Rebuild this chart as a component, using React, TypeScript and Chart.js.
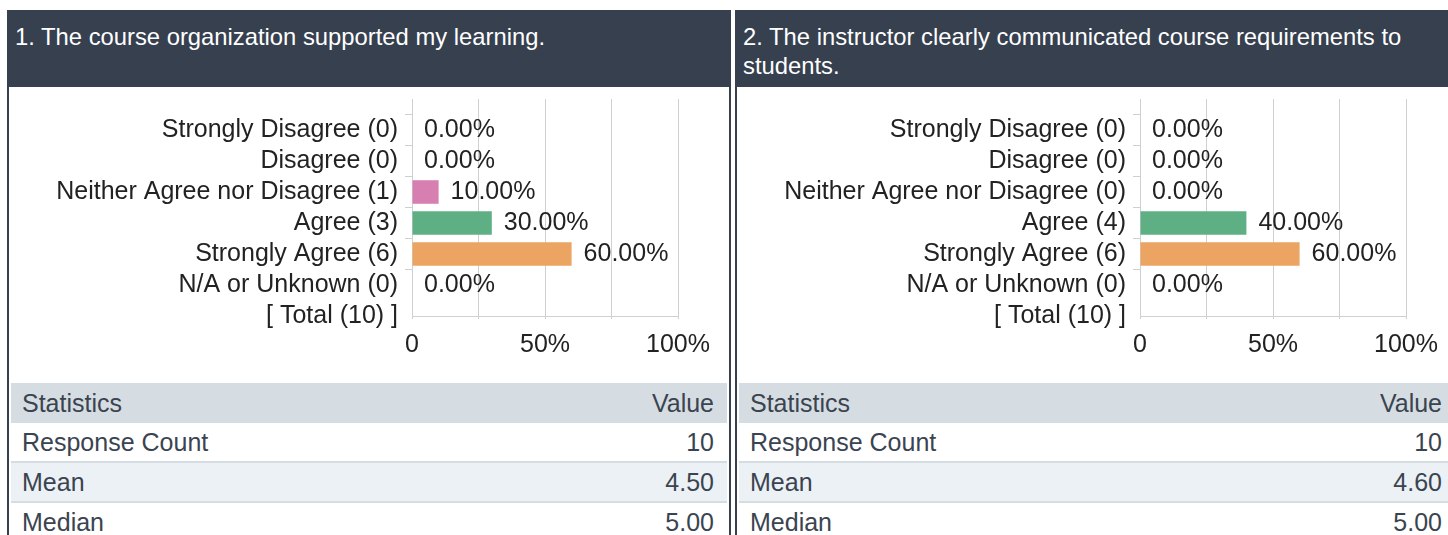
import React, { useEffect, useRef } from 'react';
import { Chart, registerables } from 'chart.js';

Chart.register(...registerables);

// ---- data ----
const responseNames = [
  'Strongly Disagree',
  'Disagree',
  'Neither Agree nor Disagree',
  'Agree',
  'Strongly Agree',
  'N/A or Unknown',
];
const barColors = ['#c9514e', '#e3876f', '#d87fb1', '#5eb084', '#eba462', '#9aa5b1'];

const q1Title = '1. The course organization supported my learning.';
const q1Counts = [0, 0, 1, 3, 6, 0];
const q1Percents = [0, 0, 10, 30, 60, 0];
const q1Total = 10;
const q1StatValues = ['10', '4.50', '5.00'];

const q2Title = '2. The instructor clearly communicated course requirements to students.';
const q2Counts = [0, 0, 0, 4, 6, 0];
const q2Percents = [0, 0, 0, 40, 60, 0];
const q2Total = 10;
const q2StatValues = ['10', '4.60', '5.00'];

const statNames = ['Response Count', 'Mean', 'Median'];
const xTickValues = [0, 25, 50, 75, 100];
const xTickLabels = ['0', '', '50%', '', '100%'];

// ---- styles ----
const FONT = "'Liberation Sans', Arial, Helvetica, sans-serif";
const DARK = '#36404f';
const GRID = '#d0d0d0';
const TEXT = '#222222';
const CHART_FONT_SIZE = 25;

function SurveyChart({ counts, percents, total }: { counts: number[]; percents: number[]; total: number }) {
  const ref = useRef<HTMLCanvasElement>(null);
  useEffect(() => {
    if (!ref.current) return;
    const labels = ['', ...responseNames.map((n, i) => `${n} (${counts[i]})`), `[ Total (${total}) ]`];
    const data: (number | null)[] = [null, ...percents, null];
    const colors = ['rgba(0,0,0,0)', ...barColors, 'rgba(0,0,0,0)'];

    const valueLabels = {
      id: 'valueLabels',
      afterDatasetsDraw(chart: any) {
        const ctx = chart.ctx;
        const meta = chart.getDatasetMeta(0);
        ctx.save();
        ctx.font = `${CHART_FONT_SIZE}px ${FONT}`;
        ctx.fillStyle = TEXT;
        ctx.textAlign = 'left';
        ctx.textBaseline = 'middle';
        meta.data.forEach((el: any, i: number) => {
          const v = data[i];
          if (v === null || v === undefined) return;
          ctx.fillText(`${v.toFixed(2)}%`, el.x + 12, el.y);
        });
        ctx.restore();
      },
    };

    const chart = new Chart(ref.current, {
      type: 'bar',
      data: {
        labels,
        datasets: [
          {
            data,
            backgroundColor: colors,
            borderWidth: 0,
            categoryPercentage: 1,
            barPercentage: 0.76,
          },
        ],
      },
      options: {
        indexAxis: 'y',
        animation: false,
        responsive: false,
        events: [],
        layout: { padding: { top: 12, right: 51, left: 0, bottom: 0 } },
        plugins: { legend: { display: false }, tooltip: { enabled: false } },
        scales: {
          x: {
            type: 'linear',
            min: 0,
            max: 100,
            afterBuildTicks: (scale: any) => {
              scale.ticks = xTickValues.map((v) => ({ value: v }));
            },
            afterFit: (scale: any) => {
              scale.height = 67;
              scale.paddingLeft = 0;
              scale.paddingRight = 0;
            },
            ticks: {
              autoSkip: false,
              maxRotation: 0,
              padding: 11,
              color: TEXT,
              font: { family: FONT, size: CHART_FONT_SIZE },
              callback: (_v: any, i: number) => xTickLabels[i],
            },
            grid: { color: GRID, tickLength: 3 },
            border: { display: true, color: GRID },
          },
          y: {
            type: 'category',
            offset: false,
            afterFit: (scale: any) => {
              scale.width = 403;
              scale.paddingTop = 0;
              scale.paddingBottom = 0;
            },
            ticks: {
              autoSkip: false,
              padding: 7,
              color: TEXT,
              font: { family: FONT, size: CHART_FONT_SIZE },
            },
            grid: {
              drawOnChartArea: false,
              tickLength: 7,
              color: (c: any) => (c.index === 0 || c.index === labels.length - 1 ? 'rgba(0,0,0,0)' : GRID),
            },
            border: { display: true, color: GRID },
          },
        },
      },
      plugins: [valueLabels],
    } as any);
    return () => chart.destroy();
  }, []);
  return <canvas ref={ref} width={720} height={296} style={{ display: 'block', width: 720, height: 296 }} />;
}

function StatsTable({ values }: { values: string[] }) {
  const cell = { display: 'flex', justifyContent: 'space-between', alignItems: 'center', padding: '0 13px 0 11px' } as const;
  return (
    <div style={{ margin: '0 2px', font: `25px ${FONT}`, color: '#3a4450' }}>
      <div style={{ ...cell, height: 40, background: '#d6dde2' }}>
        <span>Statistics</span>
        <span>Value</span>
      </div>
      {statNames.map((n, i) => (
        <div
          key={n}
          style={{
            ...cell,
            height: 38,
            background: i % 2 === 1 ? '#ecf1f5' : '#ffffff',
            borderBottom: '2px solid #d6dde2',
          }}
        >
          <span>{n}</span>
          <span>{values[i]}</span>
        </div>
      ))}
    </div>
  );
}

function Panel({ left, title, counts, percents, total, values }: any) {
  return (
    <div style={{ position: 'absolute', left, top: 10, width: 724 }}>
      <div
        style={{
          background: DARK,
          color: '#ffffff',
          height: 77,
          boxSizing: 'border-box',
          padding: '12px 8px 0 8px',
          font: `23.8px ${FONT}`,
          lineHeight: '29px',
        }}
      >
        {title}
      </div>
      <div style={{ borderLeft: `2px solid ${DARK}`, borderRight: `2px solid ${DARK}`, height: 600, background: '#fff' }}>
        <SurveyChart counts={counts} percents={percents} total={total} />
        <StatsTable values={values} />
      </div>
    </div>
  );
}

export default function App() {
  return (
    <div style={{ position: 'fixed', left: 0, top: 0, width: 1448, height: 535, overflow: 'hidden', background: '#fff' }}>
      <Panel left={7} title={q1Title} counts={q1Counts} percents={q1Percents} total={q1Total} values={q1StatValues} />
      <Panel left={735} title={q2Title} counts={q2Counts} percents={q2Percents} total={q2Total} values={q2StatValues} />
    </div>
  );
}
